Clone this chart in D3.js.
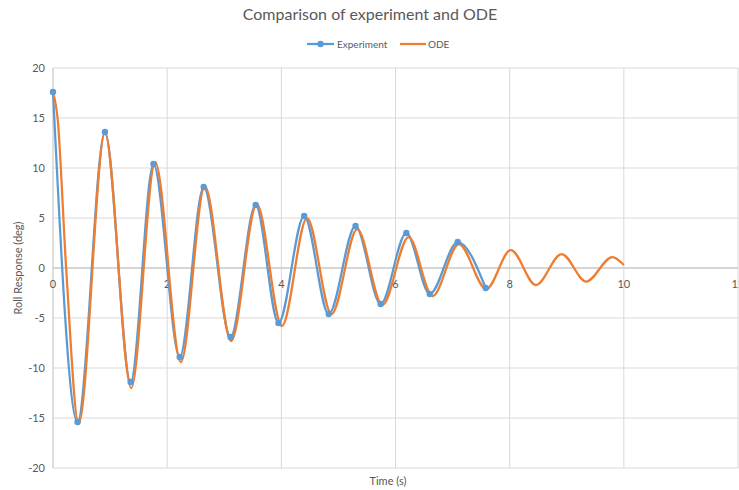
<!DOCTYPE html>
<html>
<head>
<meta charset="utf-8">
<script src="https://cdn.jsdelivr.net/npm/d3@7"></script>
<style>
  body { margin: 0; background: #fff; }
  svg { font-family: Lato, "Open Sans", sans-serif; }
</style>
</head>
<body>
<div id="chart"></div>
<script>
// experiment: measured peaks and troughs
const expTime = [0, 0.43, 0.91, 1.36, 1.76, 2.22, 2.64, 3.11, 3.55, 3.95, 4.40, 4.83, 5.30, 5.74, 6.19, 6.60, 7.09, 7.58];
const expRoll = [17.6, -15.4, 13.6, -11.4, 10.4, -8.9, 8.1, -6.9, 6.3, -5.5, 5.2, -4.6, 4.2, -3.6, 3.5, -2.6, 2.6, -2.0];

// ODE solution
const odeTime = [0, 0.08, 0.23, 0.45, 0.91, 1.37, 1.79, 2.24, 2.66, 3.12, 3.57, 4.01, 4.45, 4.88, 5.33, 5.77, 6.23, 6.65, 7.11, 7.59, 8.02, 8.46, 8.91, 9.34, 9.80, 10.0];
const odeRoll = [17.6, 15.0, 0, -15.6, 13.5, -12.0, 10.6, -9.4, 8.2, -7.3, 6.4, -5.8, 5.0, -4.6, 3.9, -3.7, 3.1, -2.8, 2.4, -2.1, 1.8, -1.7, 1.4, -1.35, 1.1, 0.3];

const xTicks = [0, 2, 4, 6, 8, 10, 12];
const yTicks = [-20, -15, -10, -5, 0, 5, 10, 15, 20];

const width = 739;
const height = 490;
const textColor = "#595959";
const gridColor = "#d9d9d9";
const blue = "#5b9bd5";
const orange = "#ed7d31";

const svg = d3.select("#chart")
  .append("svg")
  .attr("width", width)
  .attr("height", height);

const x = d3.scaleLinear().domain([0, 12]).range([53, 738]);
const y = d3.scaleLinear().domain([-20, 20]).range([468, 68]);

// grid
svg.append("g")
  .selectAll("line")
  .data(yTicks)
  .join("line")
  .attr("x1", x(0))
  .attr("x2", x(12))
  .attr("y1", d => y(d))
  .attr("y2", d => y(d))
  .attr("stroke", gridColor)
  .attr("stroke-width", 1);

svg.append("g")
  .selectAll("line")
  .data(xTicks)
  .join("line")
  .attr("x1", d => x(d))
  .attr("x2", d => x(d))
  .attr("y1", y(20))
  .attr("y2", y(-20))
  .attr("stroke", d => d === 0 ? "#bfbfbf" : gridColor)
  .attr("stroke-width", 1);

// axis at y = 0
svg.append("line")
  .attr("x1", x(0)).attr("x2", x(12))
  .attr("y1", y(0)).attr("y2", y(0))
  .attr("stroke", "#bfbfbf");

// tick labels
svg.append("g")
  .selectAll("text")
  .data(yTicks)
  .join("text")
  .attr("x", 45)
  .attr("y", d => y(d))
  .attr("dy", "0.35em")
  .attr("text-anchor", "end")
  .attr("font-size", 11)
  .attr("fill", textColor)
  .text(d => d);

svg.append("g")
  .selectAll("text")
  .data(xTicks)
  .join("text")
  .attr("x", d => x(d))
  .attr("y", y(0) + 20)
  .attr("text-anchor", "middle")
  .attr("font-size", 11)
  .attr("fill", textColor)
  .text(d => d);

// axis titles
svg.append("text")
  .attr("transform", `translate(22,${y(0)}) rotate(-90)`)
  .attr("text-anchor", "middle")
  .attr("font-size", 11)
  .attr("fill", textColor)
  .text("Roll Response (deg)");

svg.append("text")
  .attr("x", 388)
  .attr("y", 485)
  .attr("text-anchor", "middle")
  .attr("font-size", 11)
  .attr("fill", textColor)
  .text("Time (s)");

// title
svg.append("text")
  .attr("x", 370)
  .attr("y", 20)
  .attr("text-anchor", "middle")
  .attr("font-size", 16)
  .attr("fill", textColor)
  .text("Comparison of experiment and ODE");

// series
const line = d3.line()
  .x(d => x(d[0]))
  .y(d => y(d[1]))
  .curve(d3.curveMonotoneX);

const expData = expTime.map((t, i) => [t, expRoll[i]]);
const odeData = odeTime.map((t, i) => [t, odeRoll[i]]);

svg.append("path")
  .datum(expData)
  .attr("d", line)
  .attr("fill", "none")
  .attr("stroke", blue)
  .attr("stroke-width", 2.25);

svg.append("path")
  .datum(odeData)
  .attr("d", line)
  .attr("fill", "none")
  .attr("stroke", orange)
  .attr("stroke-width", 2.25);

svg.append("g")
  .selectAll("circle")
  .data(expData)
  .join("circle")
  .attr("cx", d => x(d[0]))
  .attr("cy", d => y(d[1]))
  .attr("r", 3.2)
  .attr("fill", blue);

// legend
const legend = svg.append("g").attr("transform", "translate(307,44)");
legend.append("line")
  .attr("x1", 0).attr("x2", 27)
  .attr("stroke", blue).attr("stroke-width", 2.25);
legend.append("circle")
  .attr("cx", 13.5).attr("r", 3.2).attr("fill", blue);
legend.append("text")
  .attr("x", 30).attr("dy", "0.35em")
  .attr("font-size", 10).attr("fill", textColor)
  .text("Experiment");
legend.append("line")
  .attr("x1", 93).attr("x2", 119)
  .attr("stroke", orange).attr("stroke-width", 2.25);
legend.append("text")
  .attr("x", 121).attr("dy", "0.35em")
  .attr("font-size", 10).attr("fill", textColor)
  .text("ODE");
</script>
</body>
</html>
